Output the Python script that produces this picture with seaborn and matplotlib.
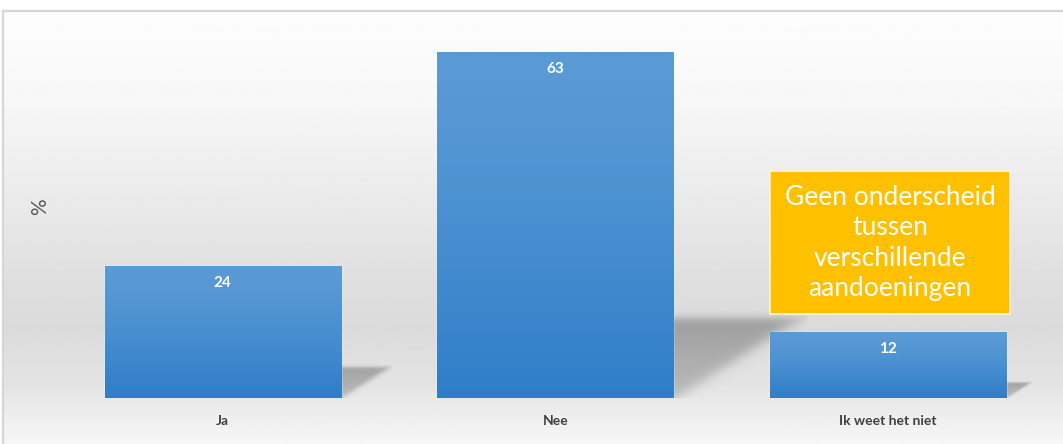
import numpy as np
import matplotlib
matplotlib.use("Agg")
import matplotlib.pyplot as plt
import seaborn as sns
import pandas as pd
from matplotlib.colors import to_rgb
from matplotlib.patches import Rectangle

# survey answers and their share in percent
categories = ["Ja", "Nee", "Ik weet het niet"]
values = [24, 63, 12]
y_label = "%"
note = "Geen onderscheid\ntussen\nverschillende\naandoeningen"

sns.set_theme(style="white")
plt.rcParams["font.family"] = ["Lato", "DejaVu Sans"]

W, H = 1063, 444
fig = plt.figure(figsize=(W / 100, H / 100), dpi=100)
fig.patch.set_facecolor("white")

# framed chart area with a soft vertical grey gradient
bg = fig.add_axes([3 / W, -0.02, 1.0, (H - 11) / H + 0.02], zorder=0)
stops_y = np.array([0.0, 0.2, 0.45, 0.62, 0.72, 0.85, 0.93, 1.0])  # from top
stops_g = np.array([253, 247, 233, 222, 219, 228, 240, 249]) / 255
yy = np.linspace(0, 1, 400)
shade = np.interp(yy, stops_y, stops_g)
bg.imshow(np.repeat(shade[:, None], 2, axis=1), cmap="gray", vmin=0, vmax=1,
          aspect="auto", extent=[0, 1, 0, 1], origin="upper")
bg.set_xlim(0, 1)
bg.set_ylim(0, 1)
bg.axis("off")
bg.add_patch(Rectangle((0, 0), 1, 1, transform=bg.transAxes, fill=False,
                       edgecolor="#d6d6d6", lw=1.6, clip_on=False))

# plotting axes
ax = fig.add_axes([56.5 / W, 46 / H, 997.5 / W, 384.4 / H], zorder=1)
ax.set_facecolor("none")

df = pd.DataFrame({"antwoord": categories, "pct": values})
sns.barplot(data=df, x="antwoord", y="pct", color="#5b9bd5", saturation=1,
            width=0.71, errorbar=None, ax=ax, zorder=3)

top_c = np.array(to_rgb("#5b9bd5"))
bot_c = np.array(to_rgb("#2f7dc9"))
t = np.linspace(0, 1, 200)[:, None]
ease = t ** 1.3
bar_grad = (top_c * (1 - ease) + bot_c * ease)[:, None, :]


def sig(z):
    return 1.0 / (1.0 + np.exp(-z))


for p in list(ax.patches):
    x0, w, h = p.get_x(), p.get_width(), p.get_height()
    # vertical colour gradient inside the bar
    im = ax.imshow(bar_grad, extent=[x0, x0 + w, 0, h], origin="upper",
                   aspect="auto", zorder=3.5)
    im.set_clip_path(p)

    # soft perspective shadow cast to the right of the bar
    rise = 0.23 * h
    dx = 0.0059 * h
    n = 160
    u = np.linspace(0, 1.08, n)[None, :]
    v = np.linspace(1.10, 0, n)[:, None]
    inside = sig((1 - v) / 0.03) * sig((v - u + 0.03) / 0.05)
    alpha = 0.45 * (0.65 + 0.35 * np.clip(v, 0, 1)) * inside
    rgba = np.zeros((n, n, 4))
    rgba[..., :3] = 0.33
    rgba[..., 3] = alpha
    ax.imshow(rgba, extent=[x0 + w, x0 + w + 1.08 * dx, 0, 1.10 * rise],
              origin="upper", aspect="auto", zorder=2,
              interpolation="bilinear")

    # value label inside the top of the bar
    ax.annotate(f"{h:.0f}", xy=(x0 + w / 2, h), xytext=(0, -17),
                textcoords="offset pixels", ha="center", va="center",
                color="white", fontweight="bold", fontsize=11, zorder=5)

ax.set_xlim(-0.5, 2.5)
ax.set_ylim(0, 70)
ax.set_yticks([])
ax.set_xlabel("")
ax.set_ylabel(y_label, fontsize=15, color="#595959", rotation=90)
ax.yaxis.set_label_coords(-0.006, 0.497)
ax.tick_params(axis="x", length=0, pad=12, labelsize=10, labelcolor="#404040")
for lbl in ax.get_xticklabels():
    lbl.set_fontweight("bold")
sns.despine(ax=ax, left=True, bottom=True)

# highlighted note above the last bar
fig.add_artist(Rectangle((770 / W, 1 - 314 / H), 240 / W, 143 / H,
                         transform=fig.transFigure, facecolor="#ffc000",
                         edgecolor="#fff4d6", lw=1.2, zorder=5))
fig.text(890 / W, 1 - 243 / H, note, ha="center", va="center", color="white",
         fontsize=19, linespacing=1.28, zorder=6)

fig.savefig("out.png", dpi=100)
